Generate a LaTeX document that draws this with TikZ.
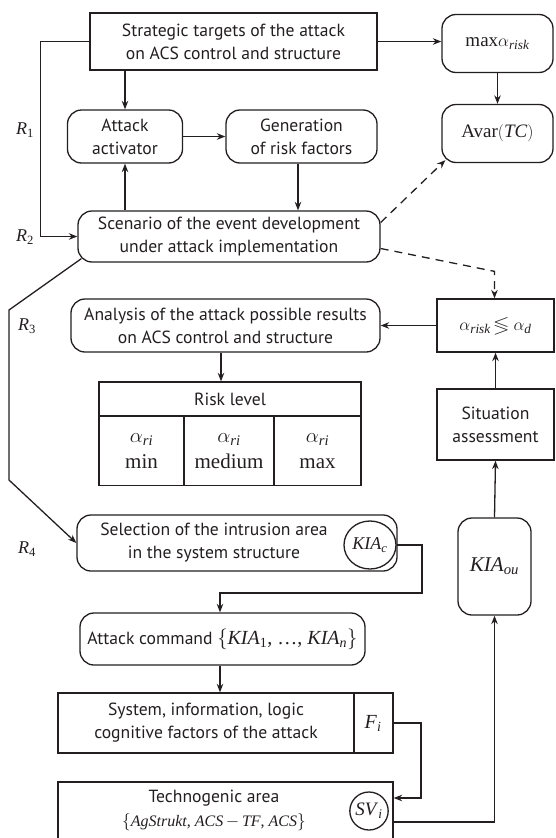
\documentclass[tikz,border=0pt]{standalone}
\usepackage{amssymb}
\usepackage[no-math]{fontspec}
\setmainfont{PT Sans}
\newfontfamily\tms{Liberation Serif}
\usetikzlibrary{arrows.meta,calc,shapes.geometric}

% sans text in boxes
\newcommand\boxfont{\fontsize{17.6}{23}\selectfont}
% serif formulas at a given size
\newcommand\mf[1]{\fontsize{#1}{#1}\selectfont\tms}
% italic subscript
\newcommand\lo[1]{\textsubscript{\itshape #1}}

\definecolor{ink}{HTML}{231F20}

\tikzset{
  box/.style={draw, rectangle, align=center, inner sep=0pt, font=\boxfont},
  rbox/.style={box, rounded corners=14pt},
  plain/.style={align=center, inner sep=0pt, font=\boxfont},
  ring/.style={draw, ellipse, inner sep=0pt},
  arr/.style={-{Stealth[length=8.5pt,width=6.5pt]}},
  dsh/.style={dash pattern=on 8pt off 6pt},
}

\begin{document}
\begin{tikzpicture}[x=1pt, y=-1pt, line width=1.3pt, line join=miter,
  color=ink]
\useasboundingbox (0,0) rectangle (555,838);
\clip (0,0) rectangle (555,838);

% upper part: targets, activator, scenario
\node[box, minimum width=287, minimum height=57] (strat) at (233.5,41.5)
  {Strategic targets of the attack\\on ACS control and structure};
\node[rbox, minimum width=111, minimum height=58, font=\mf{19}] (maxr) at (497.5,43.5)
  {max$\alpha$\lo{risk}};
\node[rbox, minimum width=111, minimum height=58, font=\mf{19}] (avar) at (497.5,133.5)
  {Avar$\Bigl($\textit{TC}$\Bigr)$};
\node[rbox, minimum width=115, minimum height=53] (act) at (125,136.5)
  {Attack\\activator};
\node[rbox, minimum width=151, minimum height=53] (gen) at (301.5,136.5)
  {Generation\\of risk factors};
\node[rbox, minimum width=302, minimum height=51] (scen) at (229,236.5)
  {Scenario of the event development\\under attack implementation};

% analysis and risk table
\node[rbox, minimum width=309, minimum height=53] (anal) at (225.5,325.5)
  {Analysis of the attack possible results\\on ACS control and structure};
\node[box, minimum width=262, minimum height=34] (risk) at (230,399) {Risk level};
\node[box, minimum width=85, minimum height=69, font=\mf{21}] (rmin) at (141.5,451)
  {$\alpha$\lo{ri}\\[5pt]min};
\node[box, minimum width=90, minimum height=69, font=\mf{21}] (rmed) at (229,451)
  {$\alpha$\lo{ri}\\[5pt]medium};
\node[box, minimum width=87, minimum height=69, font=\mf{21}] (rmax) at (317.5,451)
  {$\alpha$\lo{ri}\\[5pt]max};

% right column
\node[box, minimum width=117, minimum height=53, font=\mf{19}] (cmp) at (495.5,325.5)
  {$\alpha$\lo{risk}\,$\lessgtr\alpha$\lo{d}};
\node[box, minimum width=117, minimum height=71] (sit) at (495.5,424.5)
  {Situation\\assessment};
\node[rbox, minimum width=73, minimum height=97, font=\mf{21}] (kiaou) at (494.5,566.5)
  {\textit{KIA}\lo{ou}};

% lower part
\node[rbox, minimum width=320, minimum height=56] (sel) at (237,543) {};
\node[plain] (selt) at (214,543)
  {Selection of the intrusion area\\in the system structure};
\node[ring, minimum width=52, minimum height=48, font=\mf{18}] (kiac) at (370,545)
  {\textit{KIA}\lo{c}};
\node[rbox, minimum width=285, minimum height=52] (cmd) at (222.5,639)
  {Attack command {\mf{20}$\bigl\{$\textit{KIA}\textsubscript{1}, \dots, \textit{KIA}\lo{n}$\bigr\}$}};
\node[box, minimum width=335, minimum height=60] (sys) at (225.5,723) {};
\node[plain] (syst) at (206,723)
  {System, information, logic\\cognitive factors of the attack};
\node[plain, font=\mf{20}] (fi) at (373,723) {\textit{F}\lo{i}};
\draw (354,693) -- (354,753);
\node[box, minimum width=335, minimum height=58] (tech) at (225.5,811) {};
\node[plain] (techt) at (214,810)
  {Technogenic area\\[1pt]{\mf{16}$\bigl\{$\textit{AgStrukt}, \textit{ACS}\,$-$\,\textit{TF}, \textit{ACS}$\bigr\}$}};
\node[ring, minimum width=38, minimum height=38, font=\mf{19}] (sv) at (369,811)
  {\textit{SV}\lo{i}};

% loop labels
\node[plain, font=\mf{18}] (r1) at (25,130) {\textit{R}\textsubscript{1}};
\node[plain, font=\mf{18}] (r2) at (25,237) {\textit{R}\textsubscript{2}};
\node[plain, font=\mf{18}] (r3) at (27,326) {\textit{R}\textsubscript{3}};
\node[plain, font=\mf{18}] (r4) at (27,549) {\textit{R}\textsubscript{4}};

% connectors
\draw[arr] (strat.east) -- (maxr.west |- strat.east);
\draw[arr] (maxr.south) -- (avar.north);
\draw[arr] (act.north |- strat.south) -- (act.north);
\draw[arr] (act.east) -- (gen.west);
\draw[arr] ([xshift=-3.5pt]gen.south) -- ([xshift=-3.5pt]gen.south |- scen.north);
\draw[arr] (act.south |- scen.north) -- (act.south);
\draw[arr] (strat.west) -- ++(-49,0) |- (scen.west);

\coordinate (r3a) at (9,310);
\coordinate (r3b) at (9,480);
\draw[arr] ($(scen.south west)+(4,-4)$) -- (r3a) -- (r3b) -- (sel.west);

\draw[arr, dsh] ($(scen.east)+(0,-14)$) -- ($(avar.south west)+(4,-3)$);
\coordinate (dk) at ($(cmp.north)+(-1,-27)$);
\draw[arr, dsh] ($(scen.east)+(0,12)$) -- (dk) -- ([xshift=-1pt]cmp.north);

\draw[arr] (cmp.west) -- (anal.east |- cmp.west);
\draw[arr] (sit.north) -- (cmp.south);
\draw[arr] (kiaou.north) -- (sit.south);
\draw[arr] ([xshift=-4.5pt]anal.south) -- ([xshift=-4.5pt]anal.south |- risk.north);

\coordinate (j1) at (422,593);
\draw[arr] (kiac.east) -| (j1) -| ([xshift=-2.5pt]cmd.north);
\draw[arr] ([xshift=-2.5pt]cmd.south) -- ([xshift=-2.5pt]cmd.south |- sys.north);
\coordinate (j2) at (421,723);
\draw[arr] (sys.east) -- (j2) |- ([yshift=13pt]tech.east);
\draw[arr] ([yshift=-11pt]tech.east) -| (kiaou.south);
\end{tikzpicture}
\end{document}
